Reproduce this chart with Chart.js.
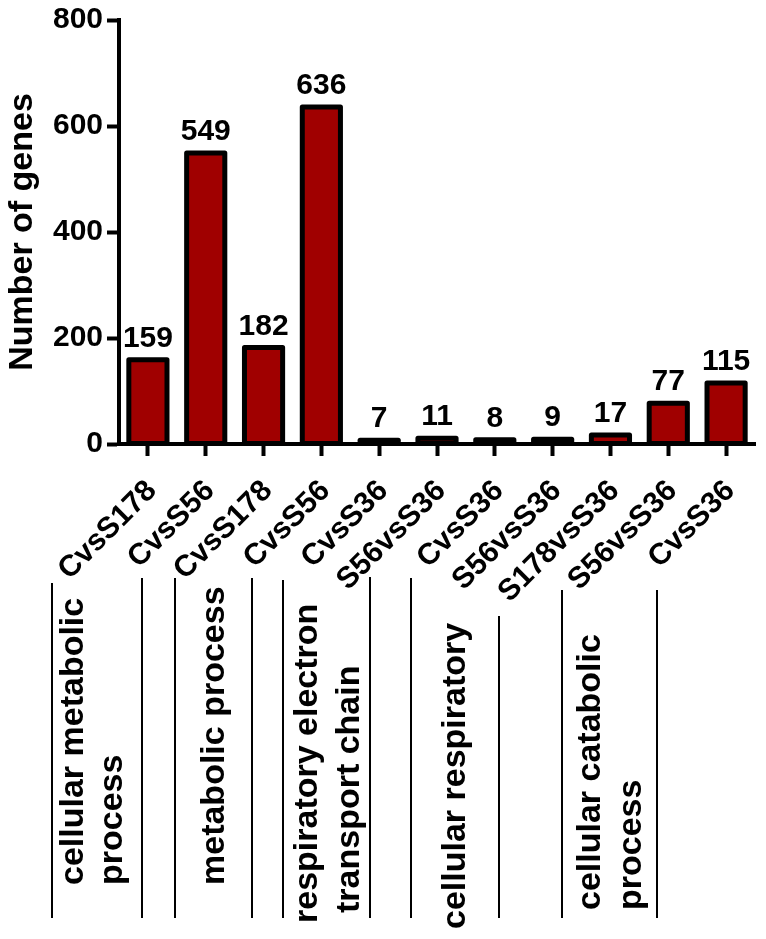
<!DOCTYPE html>
<html>
<head>
<meta charset="utf-8">
<script src="https://cdn.jsdelivr.net/npm/chart.js@4.4.1/dist/chart.umd.min.js"></script>
<style>
  html, body { margin: 0; padding: 0; background: #fff; }
  #wrap { width: 766px; height: 939px; }
</style>
</head>
<body>
<div id="wrap"><canvas id="chart" width="766" height="939"></canvas></div>
<script>
const comparisons = ["CvsS178", "CvsS56", "CvsS178", "CvsS56", "CvsS36", "S56vsS36",
  "CvsS36", "S56vsS36", "S178vsS36", "S56vsS36", "CvsS36"];
const geneCounts = [159, 549, 182, 636, 7, 11, 8, 9, 17, 77, 115];
const yTicks = [0, 200, 400, 600, 800];
const groupNames = [
  ["cellular metabolic", "process"],
  ["metabolic process"],
  ["respiratory electron", "transport chain"],
  ["cellular respiratory"],
  ["cellular catabolic", "process"]
];

const FONT = "'Liberation Sans', Arial, sans-serif";

// where the GO-term captions and separators sit under the rotated labels
const groupTextPos = [
  [[74, 885], [113, 885]],
  [[215, 885]],
  [[308, 923], [350, 913]],
  [[456, 929]],
  [[591, 910], [632, 910]]
];
const sepLines = [[52, 583], [142, 578], [175, 578], [252, 578], [283, 580],
  [370, 577], [411, 578], [499, 616], [562, 590], [657, 590]];

// outline drawn centred on the bar edge, so even tiny bars show a black slab
const barOutline = {
  id: "barOutline",
  afterDatasetsDraw(chart) {
    const ctx = chart.ctx;
    ctx.save();
    ctx.strokeStyle = "#000";
    ctx.lineWidth = 5;
    ctx.lineJoin = "round";
    chart.getDatasetMeta(0).data.forEach((bar) => {
      const p = bar.getProps(["x", "y", "base", "width"], true);
      ctx.strokeRect(p.x - p.width / 2, p.y, p.width, p.base - p.y);
    });
    // value labels
    ctx.font = "bold 30px " + FONT;
    ctx.fillStyle = "#000";
    ctx.textAlign = "center";
    ctx.textBaseline = "alphabetic";
    chart.getDatasetMeta(0).data.forEach((bar, i) => {
      ctx.fillText(geneCounts[i], bar.x, bar.y - 13);
    });
    ctx.restore();
  }
};

const xLabels = {
  id: "xLabels",
  afterDraw(chart) {
    const ctx = chart.ctx;
    const xs = chart.scales.x;
    ctx.save();
    ctx.font = "bold 30px " + FONT;
    ctx.fillStyle = "#000";
    ctx.textAlign = "right";
    ctx.textBaseline = "alphabetic";
    comparisons.forEach((lab, i) => {
      const x = xs.getPixelForTick(i);
      ctx.save();
      ctx.translate(x + 10, xs.top + 48);
      ctx.rotate(-Math.PI / 4);
      ctx.fillText(lab, 0, 0);
      ctx.restore();
    });
    ctx.restore();
  }
};

const groupLabels = {
  id: "groupLabels",
  afterDraw(chart) {
    const ctx = chart.ctx;
    ctx.save();
    ctx.strokeStyle = "#000";
    ctx.lineWidth = 2;
    sepLines.forEach(([x, top]) => {
      ctx.beginPath();
      ctx.moveTo(x, top);
      ctx.lineTo(x, 918);
      ctx.stroke();
    });
    ctx.font = "bold 34px " + FONT;
    ctx.fillStyle = "#000";
    ctx.textAlign = "left";
    ctx.textBaseline = "middle";
    groupNames.forEach((lines, g) => {
      lines.forEach((txt, j) => {
        const [x, y] = groupTextPos[g][j];
        ctx.save();
        ctx.translate(x, y);
        ctx.rotate(-Math.PI / 2);
        ctx.fillText(txt, 0, 0);
        ctx.restore();
      });
    });
    ctx.restore();
  }
};

new Chart(document.getElementById("chart"), {
  type: "bar",
  data: {
    labels: comparisons,
    datasets: [{
      data: geneCounts,
      backgroundColor: "#a00000",
      borderWidth: 0,
      categoryPercentage: 1,
      barPercentage: 0.66
    }]
  },
  options: {
    responsive: false,
    animation: false,
    devicePixelRatio: 1,
    layout: { padding: { top: 20, right: 11, left: 0, bottom: 0 } },
    plugins: {
      legend: { display: false },
      tooltip: { enabled: false }
    },
    scales: {
      x: {
        grid: {
          offset: false,
          drawOnChartArea: false,
          drawTicks: true,
          tickLength: 12,
          tickWidth: 4,
          tickColor: "#000"
        },
        border: { color: "#000", width: 4 },
        ticks: { display: false, autoSkip: false },
        afterFit(scale) { scale.height = 939 - 444; }
      },
      y: {
        min: 0,
        max: 800,
        afterBuildTicks(scale) { scale.ticks = yTicks.map(v => ({ value: v })); },
        grid: {
          drawOnChartArea: false,
          drawTicks: true,
          tickLength: 12,
          tickWidth: 4,
          tickColor: "#000"
        },
        border: { color: "#000", width: 4 },
        ticks: {
          color: "#000",
          font: { family: FONT, size: 30, weight: "bold", lineHeight: 1 },
          padding: 4
        },
        title: {
          display: true,
          text: "Number of genes",
          color: "#000",
          font: { family: FONT, size: 34, weight: "bold", lineHeight: 1.2 },
          padding: { top: 2, bottom: 0 }
        },
        afterFit(scale) { scale.width = 119; }
      }
    }
  },
  plugins: [barOutline, xLabels, groupLabels]
});
</script>
</body>
</html>
